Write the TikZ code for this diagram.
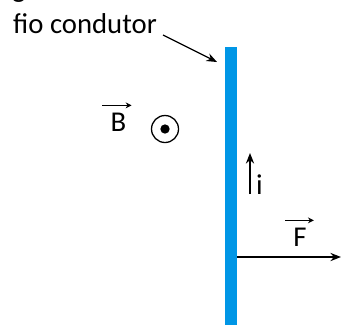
\documentclass[tikz,border=0pt]{standalone}
\usepackage{fontspec}
\setmainfont{Carlito}
\usetikzlibrary{arrows.meta}
\definecolor{wireblue}{RGB}{0,150,230}

\begin{document}
\begin{tikzpicture}[
    x=0.03cm, y=-0.03cm,
    txt/.style={font=\fontsize{24.5}{29}\selectfont, inner sep=0pt},
    arrow/.style={-{Stealth[length=9pt, width=7pt]}, line width=1.1pt},
    vecarrow/.style={-{Stealth[length=5pt, width=5pt]}, line width=1.1pt}
]
    \useasboundingbox (0,0) rectangle (341,324);

    % Wire and its label
    \node[fill=wireblue, inner sep=0pt, minimum width=0.36cm, minimum height=8.5cm] (wire) at (231,189) {};
    \node[txt, anchor=base west] (g) at (12,-3) {g};
    \node[txt, anchor=base west] (fio) at (13,33) {fio condutor};
    \coordinate (fiotail) at (163,35);
    \coordinate (fiotip) at (217,62);
    \draw[arrow] (fiotail) -- (fiotip);

    % Field out of the page
    \node[txt, anchor=base] (B) at (118.5,131) {B};
    \draw[vecarrow] ([shift={(-8,-7)}]B.north west) -- ([shift={(5,-7)}]B.north east);
    \node[circle, draw, line width=1.1pt, minimum size=0.81cm, inner sep=0pt] (Bout) at (165,129) {};
    \fill (Bout.center) circle[radius=0.14cm];

    % Current
    \coordinate (ibot) at (250,194);
    \coordinate (itop) at (250,153);
    \draw[arrow, line width=1.5pt] (ibot) -- (itop);
    \node[txt, anchor=base west] (i) at (256,194) {i};

    % Force
    \coordinate (Ftip) at (341,257);
    \draw[arrow, line width=1.6pt] (wire.east |- Ftip) -- (Ftip);
    \node[txt, anchor=base] (F) at (300,246) {F};
    \draw[vecarrow] ([shift={(-8,-7)}]F.north west) -- ([shift={(7,-7)}]F.north east);
\end{tikzpicture}
\end{document}
